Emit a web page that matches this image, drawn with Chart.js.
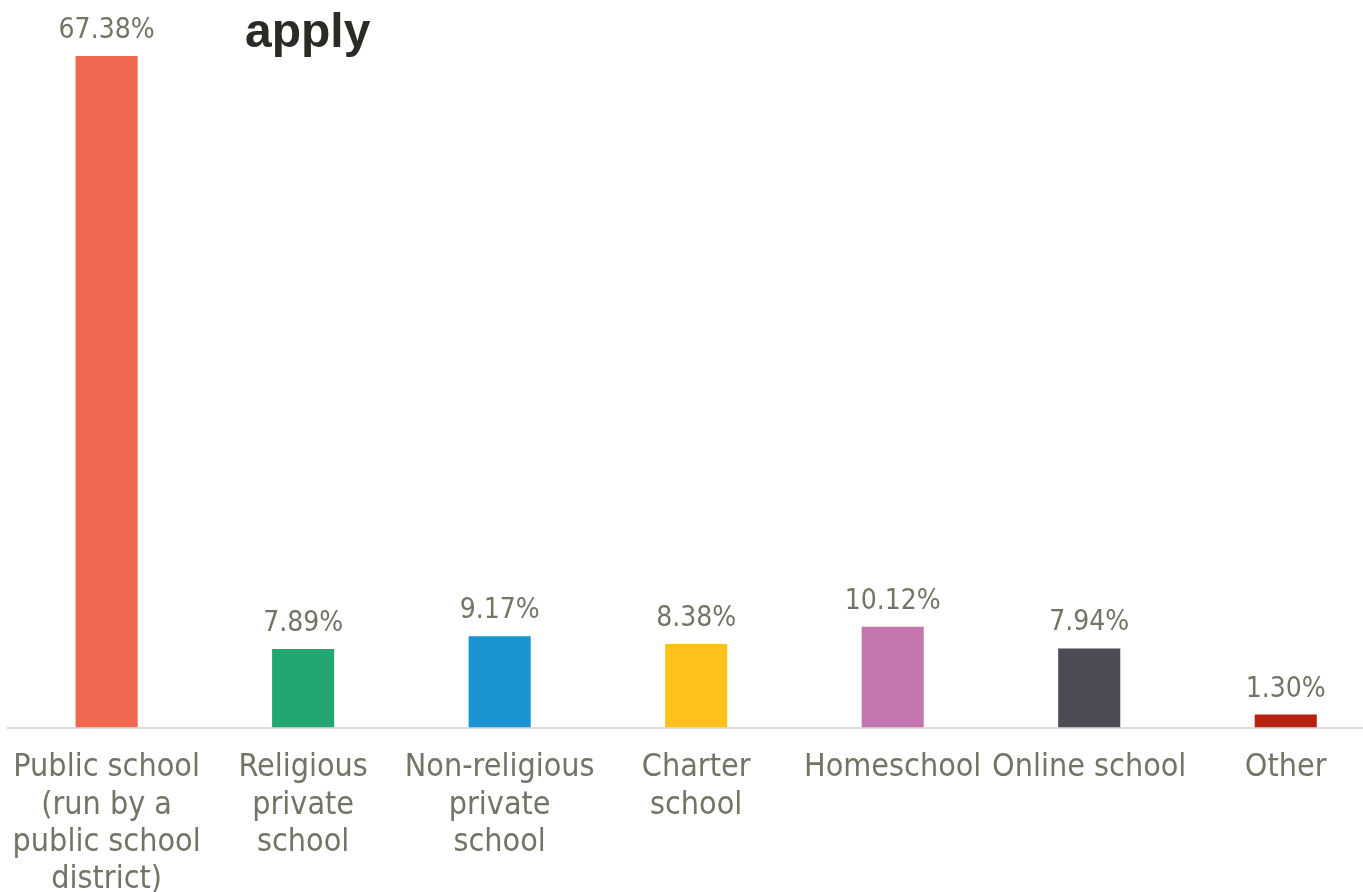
<!DOCTYPE html>
<html>
<head>
<meta charset="utf-8">
<script src="https://cdn.jsdelivr.net/npm/chart.js@4/dist/chart.umd.min.js"></script>
<style>
  html, body { margin: 0; padding: 0; background: #fff; overflow: hidden; }
  #wrap { position: relative; width: 1394px; height: 920px; margin-left: -10px; }
  #title { position: absolute; left: 255px; top: 3px; font: bold 48px "Liberation Sans", Arial, sans-serif; color: #2b2b26; }
</style>
</head>
<body>
<div id="wrap">
  <canvas id="chart" width="1394" height="920"></canvas>
  <div id="title">apply</div>
</div>
<script>
const categories = [
    ['Public school', '(run by a', 'public school', 'district)'],
    ['Religious', 'private', 'school'],
    ['Non-religious', 'private', 'school'],
    ['Charter', 'school'],
    ['Homeschool'],
    ['Online school'],
    ['Other']
];
const values = [67.38, 7.89, 9.17, 8.38, 10.12, 7.94, 1.30];
const barColors = ['#F26750', '#24A673', '#1A93D1', '#FFC11A', '#C376AE', '#4D4B55', '#B52210'];

const textColor = '#737366';
const labelFont = '"DejaVu Sans Condensed", "DejaVu Sans", sans-serif';

// value labels above each bar
const valueLabels = {
    id: 'valueLabels',
    afterDatasetsDraw(chart) {
        const ctx = chart.ctx;
        const meta = chart.getDatasetMeta(0);
        ctx.save();
        ctx.font = '28px ' + labelFont;
        ctx.fillStyle = textColor;
        ctx.textAlign = 'center';
        ctx.textBaseline = 'alphabetic';
        meta.data.forEach((bar, i) => {
            ctx.fillText(values[i].toFixed(2) + '%', bar.x, bar.y - 18);
        });
        ctx.restore();
    }
};

new Chart(document.getElementById('chart'), {
    type: 'bar',
    data: {
        labels: categories,
        datasets: [{
            data: values,
            backgroundColor: barColors,
            barPercentage: 0.316,
            categoryPercentage: 1
        }]
    },
    options: {
        responsive: false,
        animation: false,
        layout: { padding: { left: 8, right: 0, top: 0, bottom: 0 } },
        plugins: {
            legend: { display: false },
            tooltip: { enabled: false }
        },
        scales: {
            y: {
                display: false,
                min: 0,
                max: 73
            },
            x: {
                grid: { display: false, drawTicks: false },
                border: { color: '#dcdcdc', width: 2 },
                ticks: {
                    color: textColor,
                    font: { family: labelFont, size: 32, lineHeight: 1.16 },
                    padding: 22,
                    maxRotation: 0,
                    autoSkip: false
                }
            }
        }
    },
    plugins: [valueLabels]
});
</script>
</body>
</html>
